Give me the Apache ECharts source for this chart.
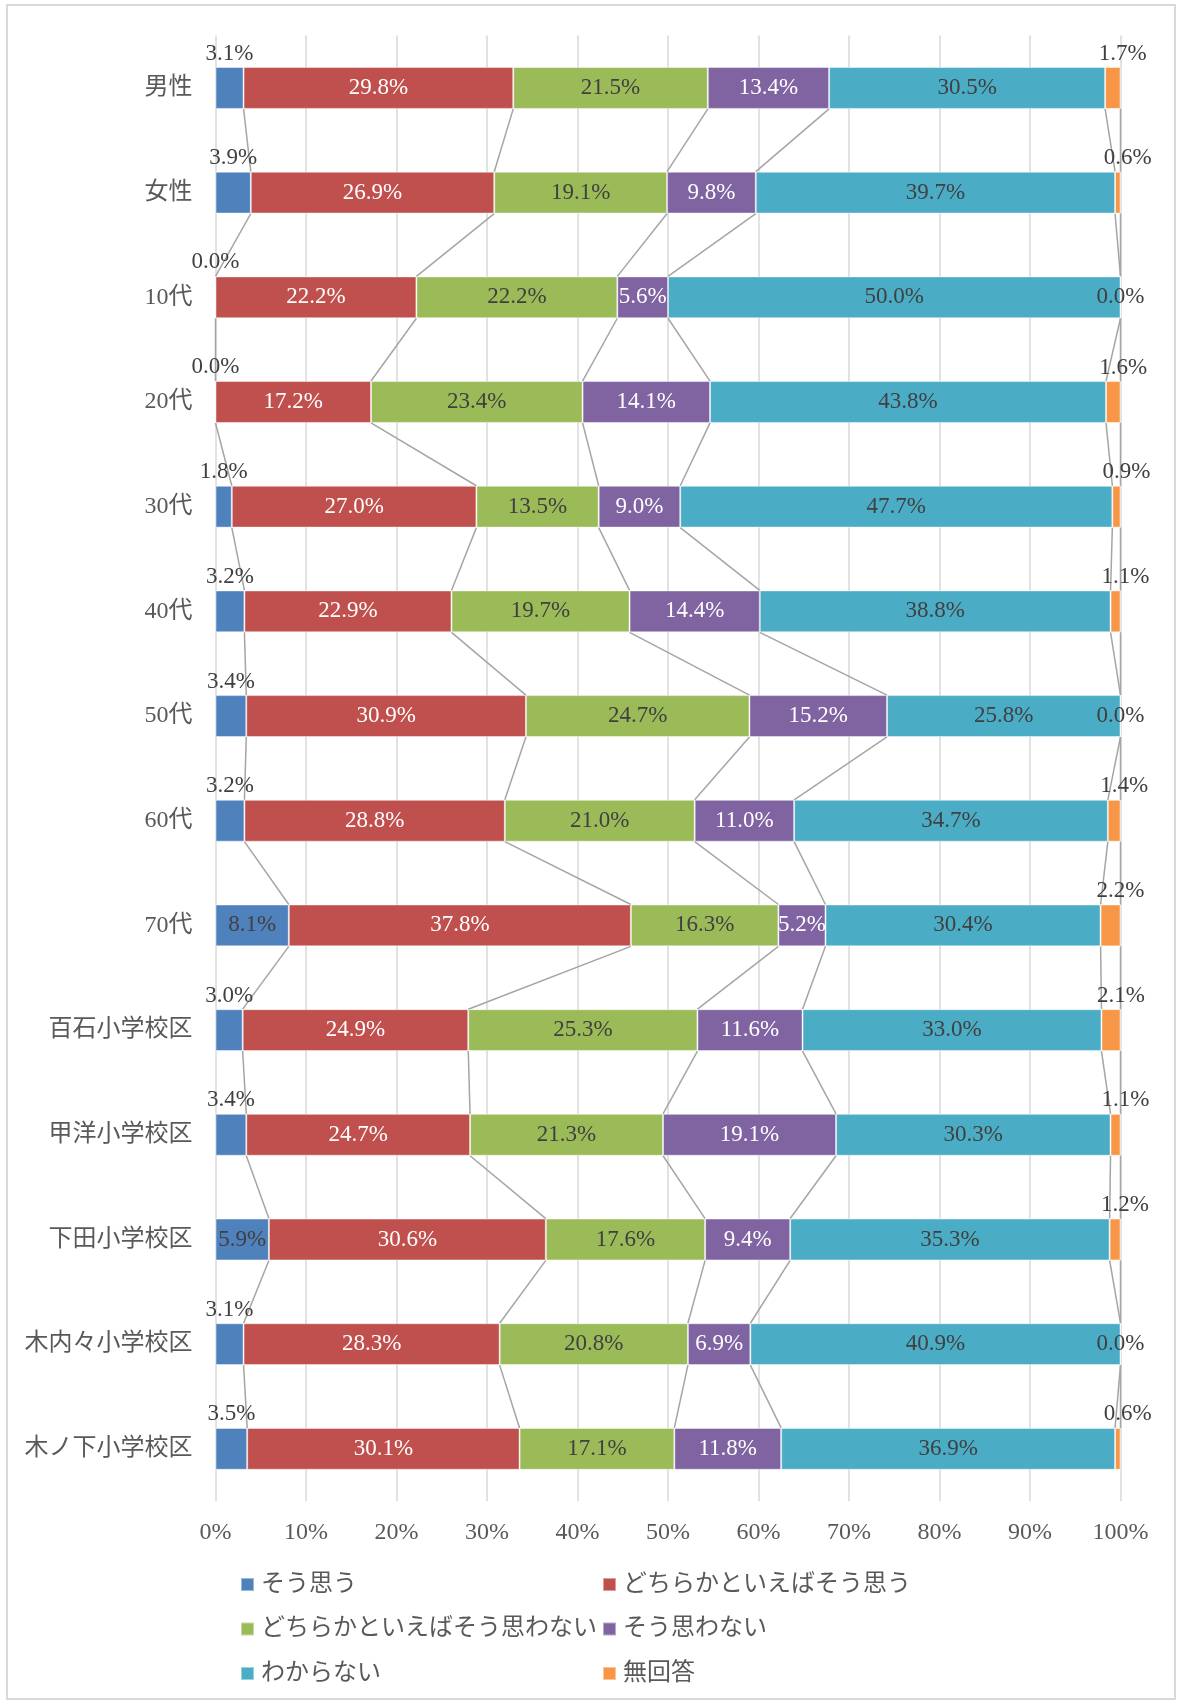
<!DOCTYPE html>
<html>
<head>
<meta charset="utf-8">
<script src="https://cdn.jsdelivr.net/npm/echarts@6/dist/echarts.min.js"></script>
<style>
  html, body { margin: 0; padding: 0; background: #ffffff; }
  #chart { width: 1178px; height: 1702px; }
</style>
</head>
<body>
<div id="chart"></div>
<script>
// Respondent groups, top to bottom
const categories = ['男性', '女性', '10代', '20代', '30代', '40代', '50代', '60代', '70代',
  '百石小学校区', '甲洋小学校区', '下田小学校区', '木内々小学校区', '木ノ下小学校区'];

// Answer options (stack order, left to right)
const answerNames = ['そう思う', 'どちらかといえばそう思う', 'どちらかといえばそう思わない',
  'そう思わない', 'わからない', '無回答'];

// Shares in percent per group
const soOmou          = [3.1, 3.9, 0.0, 0.0, 1.8, 3.2, 3.4, 3.2, 8.1, 3.0, 3.4, 5.9, 3.1, 3.5];
const dochiraSoOmou   = [29.8, 26.9, 22.2, 17.2, 27.0, 22.9, 30.9, 28.8, 37.8, 24.9, 24.7, 30.6, 28.3, 30.1];
const dochiraOmowanai = [21.5, 19.1, 22.2, 23.4, 13.5, 19.7, 24.7, 21.0, 16.3, 25.3, 21.3, 17.6, 20.8, 17.1];
const soOmowanai      = [13.4, 9.8, 5.6, 14.1, 9.0, 14.4, 15.2, 11.0, 5.2, 11.6, 19.1, 9.4, 6.9, 11.8];
const wakaranai       = [30.5, 39.7, 50.0, 43.8, 47.7, 38.8, 25.8, 34.7, 30.4, 33.0, 30.3, 35.3, 40.9, 36.9];
const mukaito         = [1.7, 0.6, 0.0, 1.6, 0.9, 1.1, 0.0, 1.4, 2.2, 2.1, 1.1, 1.2, 0.0, 0.6];

// Value-axis tick labels
const xTickLabels = ['0%', '10%', '20%', '30%', '40%', '50%', '60%', '70%', '80%', '90%', '100%'];

const rawSeries = [soOmou, dochiraSoOmou, dochiraOmowanai, soOmowanai, wakaranai, mukaito];
const colors = ['#4F81BD', '#C0504D', '#9BBB59', '#8064A2', '#4BACC6', '#F79646'];
const labelColors = ['#404040', '#ffffff', '#404040', '#ffffff', '#404040', '#404040'];

const latin = "'Liberation Serif', 'Noto Sans CJK JP', serif";
const textGrey = '#595959';

// 100% stacked: each row is scaled to its own total
const totals = categories.map((_, i) => rawSeries.reduce((s, arr) => s + arr[i], 0));
const shares = rawSeries.map(arr => arr.map((v, i) => v / totals[i] * 100));

function labelFor(k, i) {
  const v = rawSeries[k][i];
  if (k === 0 && v < 5) {
    return { position: 'top', distance: 2 };
  }
  if (k === 5 && v > 0) {
    return { position: 'top', distance: 2, offset: [10, 0] };
  }
  return { position: 'inside' };
}

const barSeries = rawSeries.map((arr, k) => ({
  name: answerNames[k],
  type: 'bar',
  stack: 'total',
  barWidth: '40%',
  itemStyle: { color: colors[k], borderColor: 'rgba(255,255,255,0.45)', borderWidth: 1 },
  label: {
    show: true,
    fontFamily: latin,
    fontSize: 23,
    color: labelColors[k],
    formatter: p => rawSeries[k][p.dataIndex].toFixed(1) + '%'
  },
  data: shares[k].map((v, i) => {
    const lab = labelFor(k, i);
    const item = { value: v };
    if (lab.position === 'top') {
      item.label = Object.assign({ color: '#404040' }, lab);
    }
    return item;
  }),
  z: 3
}));

// Connector lines between the segment boundaries of neighbouring bars
const pairIndex = categories.slice(0, -1).map((_, i) => [100, i]);
const seriesLines = {
  type: 'custom',
  name: 'series-lines',
  silent: true,
  z: 2,
  encode: { x: 0, y: 1 },
  data: pairIndex,
  renderItem: function (params, api) {
    const i = params.dataIndex;
    const half = api.size([0, 1])[1] * 0.2;
    const children = [];
    let c0 = 0, c1 = 0;
    for (let k = 0; k < shares.length; k++) {
      c0 += shares[k][i];
      c1 += shares[k][i + 1];
      const p0 = api.coord([c0, i]);
      const p1 = api.coord([c1, i + 1]);
      children.push({
        type: 'line',
        shape: { x1: p0[0], y1: p0[1] + half, x2: p1[0], y2: p1[1] - half },
        style: { stroke: '#A5A5A5', lineWidth: 1.5 }
      });
    }
    return { type: 'group', children: children };
  }
};

// One legend block per entry, laid out in two columns
const legendPos = [
  [235, 0], [597, 0],
  [235, 1], [597, 1],
  [235, 2], [597, 2]
];
const legends = answerNames.map((name, k) => ({
  data: [name],
  left: legendPos[k][0],
  top: 1567.5 + legendPos[k][1] * 44.5,
  icon: 'rect',
  itemWidth: 13,
  itemHeight: 13,
  itemGap: 0,
  selectedMode: false,
  textStyle: {
    fontFamily: latin,
    fontSize: 24,
    color: textGrey,
    padding: [0, 0, 0, 2]
  }
}));

const chart = echarts.init(document.getElementById('chart'), null, { renderer: 'canvas' });
chart.setOption({
  animation: false,
  backgroundColor: '#ffffff',
  color: colors,
  graphic: [{
    type: 'rect',
    shape: { x: 7, y: 5, width: 1168, height: 1694 },
    style: { fill: 'none', stroke: '#D9D9D9', lineWidth: 2 },
    silent: true
  }],
  legend: legends,
  grid: { left: 215.5, right: 57.5, top: 35.6, bottom: 200.8, containLabel: false },
  xAxis: {
    type: 'value',
    min: 0,
    max: 100,
    interval: 10,
    axisLine: { show: false },
    axisTick: { show: false },
    splitLine: { show: true, lineStyle: { color: '#D9D9D9', width: 1.5 } },
    axisLabel: {
      margin: 20,
      fontFamily: latin,
      fontSize: 24,
      color: textGrey,
      formatter: v => xTickLabels[Math.round(v / 10)]
    }
  },
  yAxis: {
    type: 'category',
    inverse: true,
    data: categories,
    axisLine: { show: false },
    axisTick: { show: false },
    axisLabel: {
      margin: 23,
      fontFamily: latin,
      fontSize: 24,
      color: textGrey
    }
  },
  series: barSeries.concat([seriesLines])
});
</script>
</body>
</html>
